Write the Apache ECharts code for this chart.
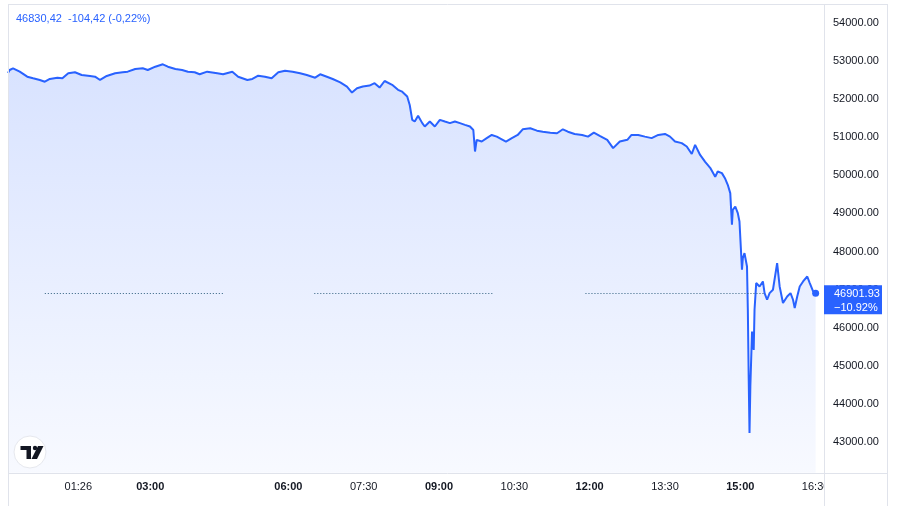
<!DOCTYPE html>
<html><head><meta charset="utf-8">
<script src="https://cdn.jsdelivr.net/npm/echarts@6/dist/echarts.min.js"></script>
<style>html,body{margin:0;padding:0;background:#fff}#c{width:900px;height:506px}</style>
</head><body><div id="c"></div>
<script>
// Bar index (1-minute logical bars along the compressed time scale)
const bars = [0,2,6,14,23,30,38,44,50,59,65,72,80,88,98,104,110,118,128,137,143,152,161,167,176,185,191,200,208,215,223,229,238,250,257,268,275,286,292,299,307,315,323,331,340,349,357,367,373,381,388,397,405,411,417,424,432,438,444,450,459,466,471,477,480,483,486,490,495,498,504,510,516,522,528,534,540,546,552,556,558,560,566,572,578,584,590,595,602,609,615,624,632,639,648,656,663,669,677,686,693,700,707,716,723,731,740,745,753,761,769,777,785,791,797,805,811,817,821,827,833,839,845,848,853,857,860,863,865,866,869,872,874,877,878,880,883,884,885,886,887,889,891,892,894,898,902,904,907,910,914,919,922,926,931,935,938,940,943,946,950,955,958,962,965];
const prices = [52688,52766,52811,52722,52590,52548,52504,52459,52530,52564,52548,52680,52706,52635,52609,52590,52504,52609,52680,52706,52722,52793,52811,52766,52853,52916,52853,52793,52766,52722,52706,52653,52722,52680,52653,52722,52590,52504,52530,52617,52590,52548,52706,52748,52722,52680,52635,52564,52653,52590,52530,52443,52331,52174,52286,52331,52358,52421,52305,52477,52376,52245,52196,52069,51847,51457,51413,51562,51371,51282,51413,51282,51457,51413,51371,51413,51371,51326,51282,51191,50625,50932,50888,50977,51060,51016,50947,50888,50977,51060,51209,51236,51173,51146,51120,51104,51209,51146,51086,51060,51016,51120,51034,50929,50714,50888,50932,51060,51060,51016,50977,51060,51086,51016,50888,50846,50757,50561,50801,50535,50355,50198,49961,50100,50058,49909,49751,49533,48701,49095,49182,49008,48788,47520,47827,47958,47607,46470,44719,43233,44453,45897,45416,46470,47171,47082,47213,46908,46733,46908,46995,47696,47082,46646,46819,46908,46733,46515,46819,47082,47213,47344,47171,46950,46902];
const tickBars = [84,170,335,425,515,605,695,785,875,965];
const tickLabels = ['01:26','03:00','06:00','07:30','09:00','10:30','12:00','13:30','15:00','16:30'];
const boldTicks = ['03:00','06:00','09:00','12:00','15:00'];
const headerText = '46830,42  -104,42 (-0,22%)';
const lastPrice = 46901.93;
const lastChange = '\u221210.92%';
const refLineValue = 46902;
const refLineSegments = [[44,259],[366,581],[690,905]];

const BLUE = '#2962FF';
const FRAME = '#e0e3eb';
const FONT = 'Liberation Sans, Arial, sans-serif';

const chart = echarts.init(document.getElementById('c'), null, {renderer:'canvas'});

const data = bars.map((b,i)=>{
  if (i === bars.length-1) return {value:[b, prices[i]], symbol:'circle', symbolSize:7, itemStyle:{color:BLUE}};
  return [b, prices[i]];
});

chart.setOption({
  animation:false,
  backgroundColor:'#ffffff',
  grid:{left:8, top:4, width:816, height:476, containLabel:false},
  xAxis:{
    type:'value', min:0, max:975,
    axisLine:{show:false}, axisTick:{show:false}, splitLine:{show:false},
    axisLabel:{
      customValues: tickBars,
      margin:1, fontSize:11, color:'#131722', fontFamily:FONT,
      formatter:(v)=>{
        const k = tickBars.indexOf(Math.round(v));
        if (k<0) return '';
        const l = tickLabels[k];
        return boldTicks.includes(l) ? '{b|'+l+'}' : l;
      },
      rich:{b:{fontWeight:'bold', fontSize:11, color:'#131722', fontFamily:FONT}}
    }
  },
  yAxis:{
    type:'value', position:'right', min:42000, max:54499, interval:1000,
    axisLine:{show:false}, axisTick:{show:false}, splitLine:{show:false},
    axisLabel:{
      showMinLabel:false, showMaxLabel:false, margin:9, align:'left',
      fontSize:11, color:'#131722', fontFamily:FONT,
      formatter:(v)=>(v % 1000 === 0 ? v.toFixed(2) : '')
    }
  },
  series:[{
    type:'line', data:data, symbol:'none', showSymbol:true,
    lineStyle:{color:BLUE, width:2},
    itemStyle:{color:BLUE},
    areaStyle:{
      origin:42188,
      color:{type:'linear', x:0, y:0, x2:0, y2:1, colorStops:[
        {offset:0, color:'rgba(41,98,255,0.26)'},
        {offset:1, color:'rgba(41,98,255,0.05)'}
      ]}
    },
    markLine:{
      silent:true, symbol:['none','none'], label:{show:false},
      lineStyle:{type:[1,2], color:'#2f5f7e', width:1},
      data: refLineSegments.map(s=>[{coord:[s[0], refLineValue]},{coord:[s[1], refLineValue]}])
    }
  }]
});

const yLast = chart.convertToPixel({yAxisIndex:0}, lastPrice);

chart.setOption({
  graphic:[
    {type:'rect', id:'panelCover', z:90, shape:{x:825, y:474, width:75, height:32}, style:{fill:'#ffffff'}},
    {type:'line', id:'fTop', z:100, shape:{x1:8, y1:4.5, x2:887, y2:4.5}, style:{stroke:FRAME, lineWidth:1}},
    {type:'line', id:'fLeft', z:100, shape:{x1:8.5, y1:4, x2:8.5, y2:506}, style:{stroke:FRAME, lineWidth:1}},
    {type:'line', id:'fAxis', z:100, shape:{x1:824.5, y1:4, x2:824.5, y2:506}, style:{stroke:FRAME, lineWidth:1}},
    {type:'line', id:'fRight', z:100, shape:{x1:887.5, y1:4, x2:887.5, y2:506}, style:{stroke:FRAME, lineWidth:1}},
    {type:'line', id:'fBottom', z:100, shape:{x1:8, y1:473.5, x2:887, y2:473.5}, style:{stroke:FRAME, lineWidth:1}},
    {type:'text', id:'header', z:100, left:16, top:13, style:{text:headerText, fill:BLUE, font:'11px '+FONT}},
    {type:'group', id:'priceTag', z:100, children:[
      {type:'rect', z:100, shape:{x:824, y:yLast-8, width:58, height:29}, style:{fill:BLUE}},
      {type:'text', z:101, x:834, y:yLast+1, style:{text:lastPrice.toFixed(2), fill:'#ffffff', font:'11px '+FONT, verticalAlign:'middle'}},
      {type:'text', z:101, x:834, y:yLast+15, style:{text:lastChange, fill:'#ffffff', font:'11px '+FONT, verticalAlign:'middle'}}
    ]},
    {type:'group', id:'logo', z:100, children:[
      {type:'circle', z:100, shape:{cx:30, cy:452, r:16}, style:{fill:'#ffffff', stroke:'#e6e8ee', lineWidth:1}},
      {type:'polygon', z:101, shape:{points:[[20.5,446],[31,446],[31,459],[26.5,459],[26.5,450],[20.5,450]]}, style:{fill:'#131722'}},
      {type:'circle', z:101, shape:{cx:35, cy:448, r:2.2}, style:{fill:'#131722'}},
      {type:'polygon', z:101, shape:{points:[[38,446],[43.5,446],[37,459],[31.5,459]]}, style:{fill:'#131722'}}
    ]}
  ]
});
</script>
</body></html>
